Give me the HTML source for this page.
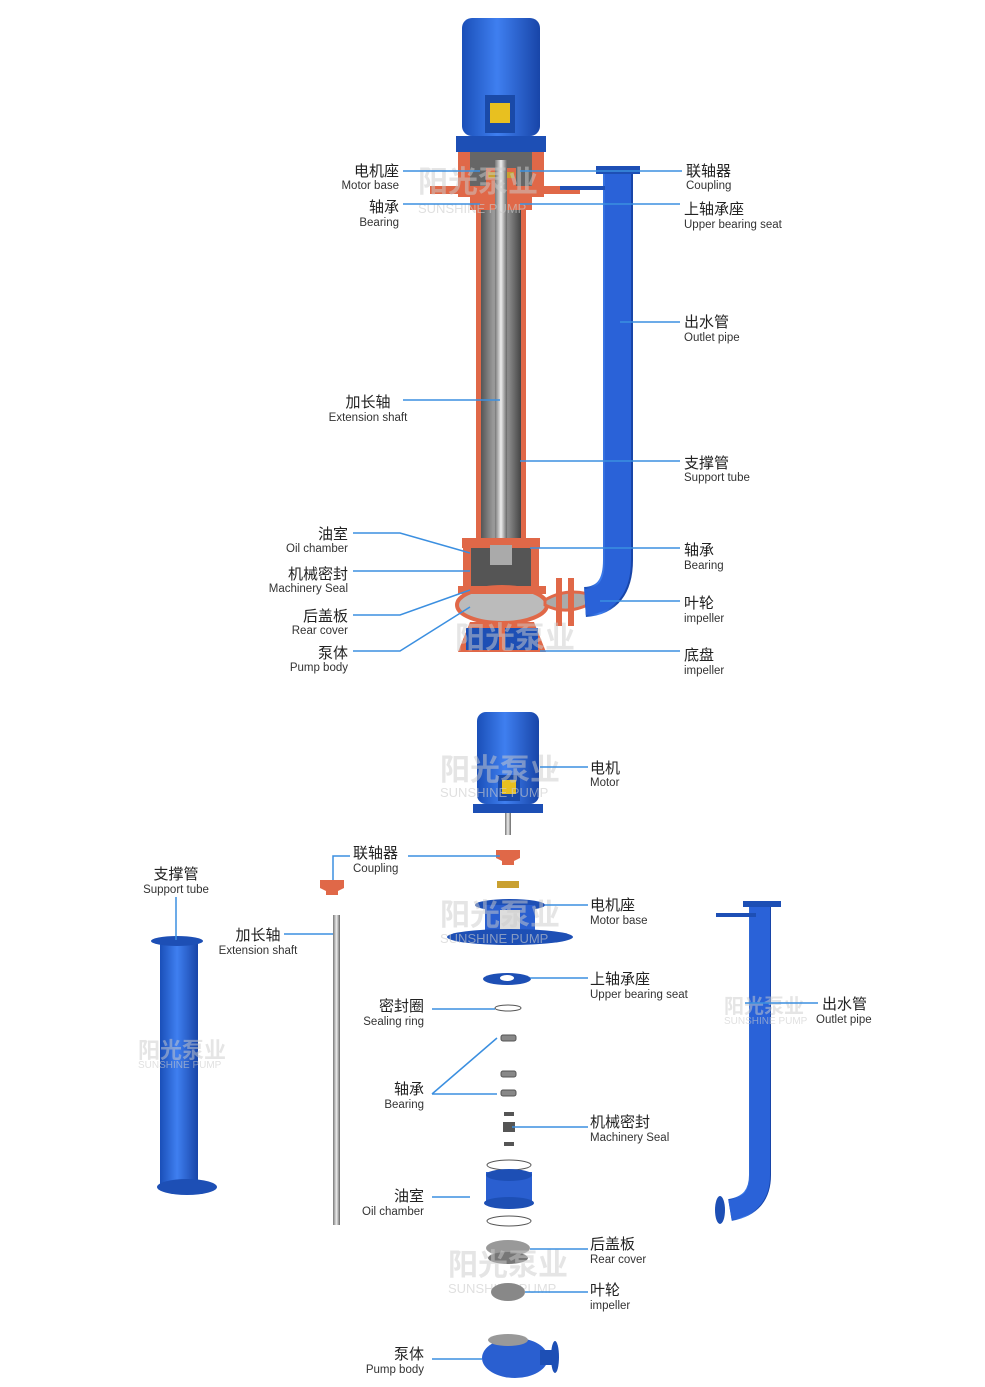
<!DOCTYPE html>
<html><head><meta charset="utf-8"><style>
html,body{margin:0;padding:0;background:#fff}
svg{display:block}
.cn{font-family:"Liberation Sans","Noto Sans CJK SC",sans-serif;font-size:15px;fill:#222}
.en{font-family:"Liberation Sans",sans-serif;font-size:11.5px;fill:#333}
.wm{font-family:"Liberation Sans","Noto Sans CJK SC",sans-serif;font-weight:bold;font-size:30px;fill:#ccc;opacity:.5}
.wme{font-family:"Liberation Sans",sans-serif;font-size:13px;fill:#ccc;opacity:.6}
.l{stroke:#3b8fe0;stroke-width:1.5;fill:none}
</style></head><body>
<svg width="985" height="1387" viewBox="0 0 985 1387" xmlns="http://www.w3.org/2000/svg">
<defs>
<linearGradient id="bl" x1="0" x2="1"><stop offset="0" stop-color="#1a4fb8"/><stop offset=".45" stop-color="#3f7ff0"/><stop offset="1" stop-color="#1845a8"/></linearGradient>
<linearGradient id="gr" x1="0" x2="1"><stop offset="0" stop-color="#777"/><stop offset=".5" stop-color="#eee"/><stop offset="1" stop-color="#666"/></linearGradient>
<linearGradient id="col" x1="0" x2="1"><stop offset="0" stop-color="#555"/><stop offset=".3" stop-color="#999"/><stop offset=".7" stop-color="#888"/><stop offset="1" stop-color="#444"/></linearGradient>
</defs>
<!-- TOP ASSEMBLY -->
<rect x="462" y="18" width="78" height="118" rx="10" fill="url(#bl)"/>
<rect x="485" y="95" width="30" height="38" fill="#1a4aa8"/><rect x="490" y="103" width="20" height="20" fill="#e8c020"/>
<rect x="456" y="136" width="90" height="16" fill="#1d4fb5"/>
<rect x="462" y="152" width="78" height="40" fill="#666"/>
<rect x="458" y="152" width="12" height="45" fill="#e06848"/><rect x="532" y="152" width="12" height="45" fill="#e06848"/>
<rect x="486" y="168" width="30" height="26" fill="#e06848"/>
<rect x="488" y="172" width="26" height="6" fill="#c9a030"/>
<rect x="430" y="186" width="150" height="8" fill="#e06848"/>
<rect x="470" y="194" width="62" height="16" fill="#e06848"/>
<rect x="476" y="210" width="5" height="330" fill="#e06848"/><rect x="521" y="210" width="5" height="330" fill="#e06848"/>
<rect x="481" y="210" width="40" height="330" fill="url(#col)"/>
<rect x="495" y="160" width="12" height="380" fill="url(#gr)"/>
<rect x="462" y="538" width="78" height="10" fill="#e06848"/>
<rect x="468" y="548" width="66" height="40" fill="#555"/>
<rect x="463" y="548" width="8" height="45" fill="#e06848"/><rect x="531" y="548" width="8" height="45" fill="#e06848"/>
<rect x="490" y="545" width="22" height="20" fill="#aaa"/>
<ellipse cx="502" cy="605" rx="45" ry="18" fill="#bbb" stroke="#e06848" stroke-width="4"/>
<rect x="458" y="586" width="88" height="8" fill="#e06848"/>
<path d="M545 600 Q570 585 600 598 Q570 618 545 605z" fill="#aaa" stroke="#e06848" stroke-width="3"/>
<path d="M458 652 L470 622 H534 L546 652z" fill="#e06848"/>
<rect x="466" y="628" width="72" height="22" fill="#1d4fb5"/>
<rect x="499" y="628" width="6" height="22" fill="#e06848"/>
<rect x="556" y="578" width="6" height="48" fill="#e06848"/><rect x="568" y="578" width="6" height="48" fill="#e06848"/>
<path d="M618 172 V560 Q618 600 585 602" stroke="url(#bl)" stroke-width="30" fill="none"/>
<path d="M618 172 V560 Q618 600 585 602" stroke="#2a62d8" stroke-width="26" fill="none"/>
<rect x="596" y="166" width="44" height="8" fill="#1d4fb5"/>
<rect x="560" y="186" width="45" height="4" fill="#1d4fb5"/>
<text class="wm" x="418" y="192">阳光泵业</text><text class="wme" x="418" y="213">SUNSHINE PUMP</text>
<text class="wm" x="455" y="648">阳光泵业</text>
<!-- top labels -->
<text class="cn" x="399" y="176" text-anchor="end">电机座</text><text class="en" x="399" y="189" text-anchor="end">Motor base</text>
<path class="l" d="M403 171H480"/>
<text class="cn" x="399" y="212" text-anchor="end">轴承</text><text class="en" x="399" y="226" text-anchor="end">Bearing</text>
<path class="l" d="M403 204H480"/>
<text class="cn" x="368" y="407" text-anchor="middle">加长轴</text><text class="en" x="368" y="421" text-anchor="middle">Extension shaft</text>
<path class="l" d="M403 400H500"/>
<text class="cn" x="348" y="539" text-anchor="end">油室</text><text class="en" x="348" y="552" text-anchor="end">Oil chamber</text>
<path class="l" d="M353 533H400L470 553"/>
<text class="cn" x="348" y="579" text-anchor="end">机械密封</text><text class="en" x="348" y="592" text-anchor="end">Machinery Seal</text>
<path class="l" d="M353 571H470"/>
<text class="cn" x="348" y="621" text-anchor="end">后盖板</text><text class="en" x="348" y="634" text-anchor="end">Rear cover</text>
<path class="l" d="M353 615H400L470 590"/>
<text class="cn" x="348" y="658" text-anchor="end">泵体</text><text class="en" x="348" y="671" text-anchor="end">Pump body</text>
<path class="l" d="M353 651H400L470 607"/>
<text class="cn" x="686" y="176">联轴器</text><text class="en" x="686" y="189">Coupling</text>
<path class="l" d="M520 171H682"/>
<text class="cn" x="684" y="214">上轴承座</text><text class="en" x="684" y="228">Upper bearing seat</text>
<path class="l" d="M520 204H680"/>
<text class="cn" x="684" y="327">出水管</text><text class="en" x="684" y="341">Outlet pipe</text>
<path class="l" d="M620 322H680"/>
<text class="cn" x="684" y="468">支撑管</text><text class="en" x="684" y="481">Support tube</text>
<path class="l" d="M520 461H680"/>
<text class="cn" x="684" y="555">轴承</text><text class="en" x="684" y="569">Bearing</text>
<path class="l" d="M530 548H680"/>
<text class="cn" x="684" y="608">叶轮</text><text class="en" x="684" y="622">impeller</text>
<path class="l" d="M600 601H680"/>
<text class="cn" x="684" y="660">底盘</text><text class="en" x="684" y="674">impeller</text>
<path class="l" d="M540 651H680"/>
<!-- EXPLODED -->
<rect x="477" y="712" width="62" height="92" rx="9" fill="url(#bl)"/>
<rect x="498" y="775" width="22" height="26" fill="#1a4aa8"/><rect x="502" y="780" width="14" height="14" fill="#e8c020"/>
<rect x="473" y="804" width="70" height="9" fill="#1d4fb5"/>
<rect x="505" y="813" width="6" height="22" fill="url(#gr)"/>
<text class="wm" x="440" y="780">阳光泵业</text><text class="wme" x="440" y="797">SUNSHINE PUMP</text>
<text class="cn" x="590" y="773">电机</text><text class="en" x="590" y="786">Motor</text>
<path class="l" d="M540 767H588"/>
<path d="M496 850h24v8l-6 3v4h-12v-4l-6-3z" fill="#e06848"/>
<path d="M320 880h24v8l-6 3v4h-12v-4l-6-3z" fill="#e06848"/>
<rect x="497" y="881" width="22" height="7" fill="#c9a030"/>
<text class="cn" x="353" y="858">联轴器</text><text class="en" x="353" y="872">Coupling</text>
<path class="l" d="M408 856H500M350 856H333V880"/>
<ellipse cx="510" cy="905" rx="35" ry="6" fill="#1d4fb5"/>
<rect x="485" y="905" width="50" height="28" fill="#2a5fd0"/><rect x="500" y="910" width="20" height="22" fill="#ddd"/>
<ellipse cx="510" cy="937" rx="63" ry="8" fill="#1d4fb5"/>
<text class="wm" x="440" y="925">阳光泵业</text><text class="wme" x="440" y="943">SUNSHINE PUMP</text>
<text class="cn" x="590" y="910">电机座</text><text class="en" x="590" y="924">Motor base</text>
<path class="l" d="M545 905H588"/>
<ellipse cx="507" cy="979" rx="24" ry="6" fill="#1d4fb5"/><ellipse cx="507" cy="978" rx="7" ry="3" fill="#fff"/>
<text class="cn" x="590" y="984">上轴承座</text><text class="en" x="590" y="998">Upper bearing seat</text>
<path class="l" d="M530 978H588"/>
<ellipse cx="508" cy="1008" rx="13" ry="3" fill="none" stroke="#555"/>
<text class="cn" x="424" y="1011" text-anchor="end">密封圈</text><text class="en" x="424" y="1025" text-anchor="end">Sealing ring</text>
<path class="l" d="M432 1009H495"/>
<g fill="#888" stroke="#555"><rect x="501" y="1035" width="15" height="6" rx="2"/><rect x="501" y="1071" width="15" height="6" rx="2"/><rect x="501" y="1090" width="15" height="6" rx="2"/></g>
<text class="cn" x="424" y="1094" text-anchor="end">轴承</text><text class="en" x="424" y="1108" text-anchor="end">Bearing</text>
<path class="l" d="M432 1094L497 1038M432 1094H497"/>
<g fill="#555"><rect x="504" y="1112" width="10" height="4"/><rect x="503" y="1122" width="12" height="10"/><rect x="504" y="1142" width="10" height="4"/></g>
<text class="cn" x="590" y="1127">机械密封</text><text class="en" x="590" y="1141">Machinery Seal</text>
<path class="l" d="M512 1127H588"/>
<ellipse cx="509" cy="1165" rx="22" ry="5" fill="none" stroke="#555"/>
<rect x="486" y="1172" width="46" height="30" fill="#2a5fd0"/><ellipse cx="509" cy="1175" rx="23" ry="6" fill="#1d4fb5"/><ellipse cx="509" cy="1203" rx="25" ry="6" fill="#1d4fb5"/>
<ellipse cx="509" cy="1221" rx="22" ry="5" fill="none" stroke="#555"/>
<text class="cn" x="424" y="1201" text-anchor="end">油室</text><text class="en" x="424" y="1215" text-anchor="end">Oil chamber</text>
<path class="l" d="M432 1197H470"/>
<ellipse cx="508" cy="1248" rx="22" ry="8" fill="#999"/><ellipse cx="508" cy="1258" rx="20" ry="6" fill="#777"/>
<text class="wm" x="448" y="1275">阳光泵业</text><text class="wme" x="448" y="1293">SUNSHINE PUMP</text>
<text class="cn" x="590" y="1249">后盖板</text><text class="en" x="590" y="1263">Rear cover</text>
<path class="l" d="M530 1249H588"/>
<ellipse cx="508" cy="1292" rx="17" ry="9" fill="#888"/>
<text class="cn" x="590" y="1295">叶轮</text><text class="en" x="590" y="1309">impeller</text>
<path class="l" d="M525 1292H588"/>
<ellipse cx="515" cy="1358" rx="33" ry="20" fill="#2a5fd0"/><rect x="540" y="1350" width="15" height="15" fill="#1d4fb5"/><ellipse cx="555" cy="1357" rx="4" ry="16" fill="#1d4fb5"/>
<ellipse cx="508" cy="1340" rx="20" ry="6" fill="#999"/>
<text class="cn" x="424" y="1359" text-anchor="end">泵体</text><text class="en" x="424" y="1373" text-anchor="end">Pump body</text>
<path class="l" d="M432 1359H482"/>
<!-- support tube -->
<rect x="160" y="940" width="38" height="250" fill="url(#bl)"/>
<ellipse cx="177" cy="941" rx="26" ry="5" fill="#1d4fb5"/><ellipse cx="187" cy="1187" rx="30" ry="8" fill="#1d4fb5"/>
<text class="wm" x="138" y="1058" style="font-size:22px">阳光泵业</text><text class="wme" x="138" y="1068" style="font-size:10px">SUNSHINE PUMP</text>
<text class="cn" x="176" y="879" text-anchor="middle">支撑管</text><text class="en" x="176" y="893" text-anchor="middle">Support tube</text>
<path class="l" d="M176 897V940"/>
<rect x="333" y="915" width="7" height="310" fill="url(#gr)"/>
<text class="cn" x="258" y="940" text-anchor="middle">加长轴</text><text class="en" x="258" y="954" text-anchor="middle">Extension shaft</text>
<path class="l" d="M284 934H333"/>
<!-- outlet pipe -->
<path d="M760 905V1175Q760 1205 730 1210" stroke="url(#bl)" stroke-width="22" fill="none"/>
<path d="M760 905V1175Q760 1205 730 1210" stroke="#2a62d8" stroke-width="20" fill="none"/>
<ellipse cx="720" cy="1210" rx="5" ry="14" fill="#1d4fb5"/>
<rect x="743" y="901" width="38" height="6" fill="#1d4fb5"/>
<rect x="716" y="913" width="40" height="4" fill="#1d4fb5"/>
<text class="wm" x="724" y="1013" style="font-size:20px">阳光泵业</text><text class="wme" x="724" y="1024" style="font-size:10px">SUNSHINE PUMP</text>
<text class="cn" x="822" y="1009">出水管</text><text class="en" x="816" y="1023">Outlet pipe</text>
<path class="l" d="M745 1003H818"/>
</svg>
</body></html>
